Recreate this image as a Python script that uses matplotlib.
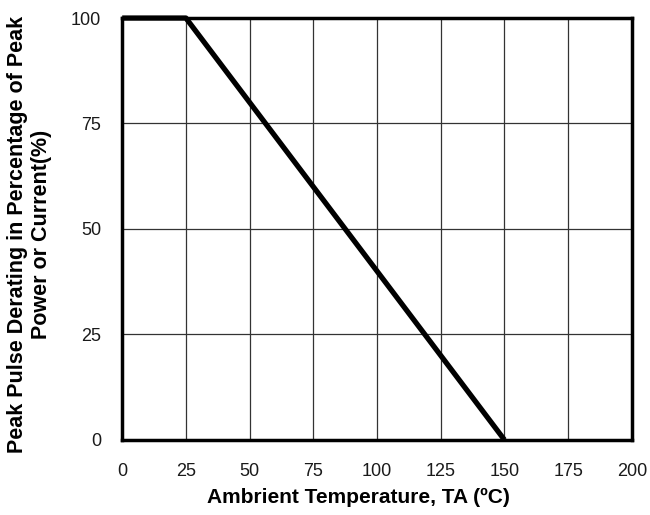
import matplotlib.pyplot as plt

# derating curve
temp = [0, 25, 150]
derating = [100, 100, 0]
x_ticks = [0, 25, 50, 75, 100, 125, 150, 175, 200]
y_ticks = [0, 25, 50, 75, 100]

plt.rcParams['font.family'] = ['Liberation Sans', 'DejaVu Sans']

fig = plt.figure(figsize=(6.5, 5.15), dpi=100)
ax = fig.add_axes([0.188, 0.146, 0.784, 0.819])

ax.plot(temp, derating, color='black', lw=3.8, solid_capstyle='butt', zorder=3, clip_on=False)
ax.set_xlim(0, 200)
ax.set_ylim(0, 100)
ax.set_xticks(x_ticks)
ax.set_yticks(y_ticks)
ax.grid(True, color='#333333', lw=0.9)
ax.tick_params(length=0, labelsize=13, colors='#1a1a1a')
ax.tick_params(axis='y', pad=15)
ax.tick_params(axis='x', pad=17)
for s in ax.spines.values():
    s.set_linewidth(2.5)

ax.set_xlabel('Ambrient Temperature, TA (ºC)', fontsize=15, fontweight='bold')
ax.set_ylabel('Peak Pulse Derating in Percentage of Peak\nPower or Current(%)',
              fontsize=15.5, fontweight='bold')
ax.xaxis.set_label_coords(0.463, -0.115)
ax.yaxis.set_label_coords(-0.137, 0.486)

fig.savefig('out.png', dpi=100)
